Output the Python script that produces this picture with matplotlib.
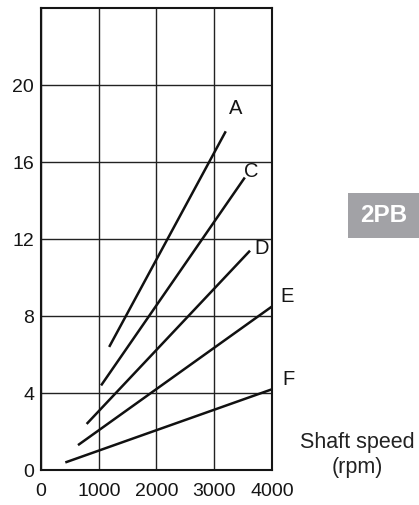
import matplotlib.pyplot as plt
from matplotlib.patches import Rectangle

plt.rcParams['font.family'] = ['Liberation Sans', 'DejaVu Sans']

# curve end points (rpm, value)
curve_names = ['A', 'C', 'D', 'E', 'F']
curve_rpm = [[1180, 3200], [1040, 3530], [790, 3620], [640, 4000], [420, 4000]]
curve_val = [[6.4, 17.6], [4.4, 15.2], [2.4, 11.4], [1.3, 8.5], [0.4, 4.2]]
label_rpm = [3370, 3650, 3820, 4270, 4290]
label_val = [18.8, 15.5, 11.5, 9.0, 4.7]

x_ticks = [0, 1000, 2000, 3000, 4000]
y_ticks = [0, 4, 8, 12, 16, 20]

fig = plt.figure(figsize=(4.19, 5.05), dpi=100)
ax = fig.add_axes([0.098, 0.069, 0.551, 0.915])
ax.set_xlim(0, 4000)
ax.set_ylim(0, 24)

ax.set_xticks(x_ticks)
ax.set_yticks(y_ticks)
ax.tick_params(length=0, labelsize=14, colors='#151515', pad=5)
ax.tick_params(axis='x', pad=9)
ax.grid(True, color='#222222', linewidth=1.0)
ax.set_axisbelow(True)
for s in ax.spines.values():
    s.set_linewidth(1.5)
    s.set_color('#151515')

for name, xs, ys, lx, ly in zip(curve_names, curve_rpm, curve_val, label_rpm, label_val):
    ax.plot(xs, ys, color='#111111', linewidth=1.8, solid_capstyle='butt', clip_on=False)
    ax.text(lx, ly, name, fontsize=14.5, ha='center', va='center',
            color='#151515', clip_on=False)

fig.text(0.852, 0.099, 'Shaft speed\n(rpm)', fontsize=15.5, ha='center', va='center',
         color='#222222', linespacing=1.25)

# section tag
fig.add_artist(Rectangle((348 / 419, 1 - 238 / 505), 71 / 419, 45 / 505,
                         transform=fig.transFigure, facecolor='#a2a2a6', edgecolor='none'))
fig.text(384 / 419, 1 - 216 / 505, '2PB', fontsize=17.5, fontweight='bold',
         color='white', ha='center', va='center')

fig.savefig('out.png', dpi=100)
